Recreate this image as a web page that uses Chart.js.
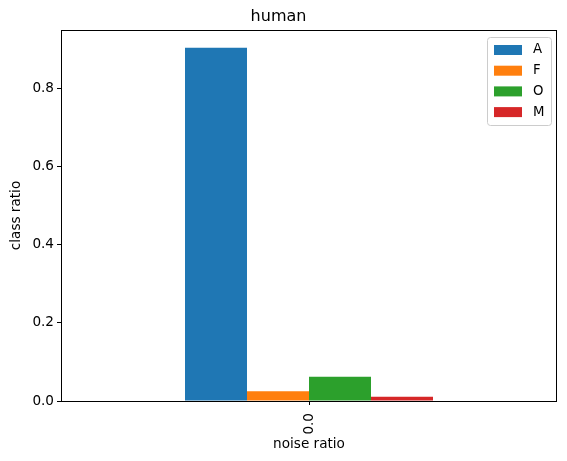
<!DOCTYPE html>
<html>
<head>
<meta charset="utf-8">
<script src="https://cdn.jsdelivr.net/npm/chart.js@4"></script>
<style>
  body { margin: 0; background: #fff; }
</style>
</head>
<body>
<canvas id="humanChart" width="567" height="461"></canvas>
<script>
const categories = ['0.0'];
const classNames = ['A', 'F', 'O', 'M'];
const classRatios = [
    [0.903],
    [0.025],
    [0.062],
    [0.011]
];
const classColors = ['#1f77b4', '#ff7f0e', '#2ca02c', '#d62728'];
const yTicks = [0.0, 0.2, 0.4, 0.6, 0.8];

const FONT = 'DejaVu Sans';

// box around the axes plus matplotlib style legend in the top right
const framePlugin = {
    id: 'frame',
    afterDraw(chart) {
        const ctx = chart.ctx;
        const a = chart.chartArea;
        ctx.save();
        ctx.strokeStyle = '#000';
        ctx.lineWidth = 1;
        ctx.strokeRect(Math.round(a.left) + 0.5, Math.round(a.top) + 0.5,
            Math.round(a.right - a.left) - 1, Math.round(a.bottom - a.top));

        const boxRight = a.right - 6;
        const boxTop = a.top + 7;
        const boxW = 64;
        const rowH = 20.7;
        const boxH = 88;
        const boxLeft = boxRight - boxW;
        ctx.fillStyle = 'rgba(255,255,255,0.8)';
        ctx.strokeStyle = '#cccccc';
        ctx.beginPath();
        ctx.roundRect(boxLeft + 0.5, boxTop + 0.5, boxW, boxH, 3);
        ctx.fill();
        ctx.stroke();

        ctx.font = '13.3px "' + FONT + '"';
        ctx.textBaseline = 'middle';
        ctx.textAlign = 'left';
        chart.data.datasets.forEach((ds, i) => {
            const cy = boxTop + 13 + i * rowH;
            ctx.fillStyle = ds.backgroundColor;
            ctx.fillRect(boxLeft + 7, cy - 5, 28, 10);
            ctx.fillStyle = '#000';
            ctx.fillText(ds.label, boxLeft + 46, cy);
        });
        ctx.restore();
    }
};

const chart = document.getElementById('humanChart');
new Chart(chart, {
    type: 'bar',
    data: {
        labels: categories,
        datasets: classNames.map((name, i) => ({
            label: name,
            data: classRatios[i],
            backgroundColor: classColors[i],
            borderWidth: 0,
            categoryPercentage: 0.5,
            barPercentage: 1.0
        }))
    },
    options: {
        responsive: false,
        animation: false,
        layout: {
            padding: { left: 0, right: 10, top: 0, bottom: 0 }
        },
        scales: {
            x: {
                afterFit(scale) { scale.height = 60; },
                grid: {
                    offset: false,
                    drawOnChartArea: false,
                    drawTicks: true,
                    tickLength: 4,
                    color: '#000'
                },
                border: { display: false },
                ticks: {
                    color: '#000',
                    minRotation: 90,
                    maxRotation: 90,
                    padding: 8,
                    font: { family: FONT, size: 13.6 }
                },
                title: {
                    display: true,
                    text: 'noise ratio',
                    color: '#000',
                    padding: { top: 0, bottom: 8 },
                    font: { family: FONT, size: 13.6 }
                }
            },
            y: {
                min: 0,
                max: 0.9485,
                afterFit(scale) { scale.width = 61; },
                afterBuildTicks(scale) {
                    scale.ticks = yTicks.map(v => ({ value: v }));
                },
                grid: {
                    drawOnChartArea: false,
                    drawTicks: true,
                    tickLength: 4,
                    color: '#000'
                },
                border: { display: false },
                ticks: {
                    color: '#000',
                    padding: 3,
                    font: { family: FONT, size: 13.6 },
                    callback: v => v.toFixed(1)
                },
                title: {
                    display: true,
                    text: 'class ratio',
                    color: '#000',
                    padding: { top: 8, bottom: 0 },
                    font: { family: FONT, size: 13.6 }
                }
            }
        },
        plugins: {
            legend: { display: false },
            tooltip: { enabled: false },
            title: {
                display: true,
                text: 'human',
                color: '#000',
                padding: { top: 7, bottom: 3.8 },
                font: { family: FONT, size: 16, weight: 'normal' }
            }
        }
    },
    plugins: [framePlugin]
});
</script>
</body>
</html>
